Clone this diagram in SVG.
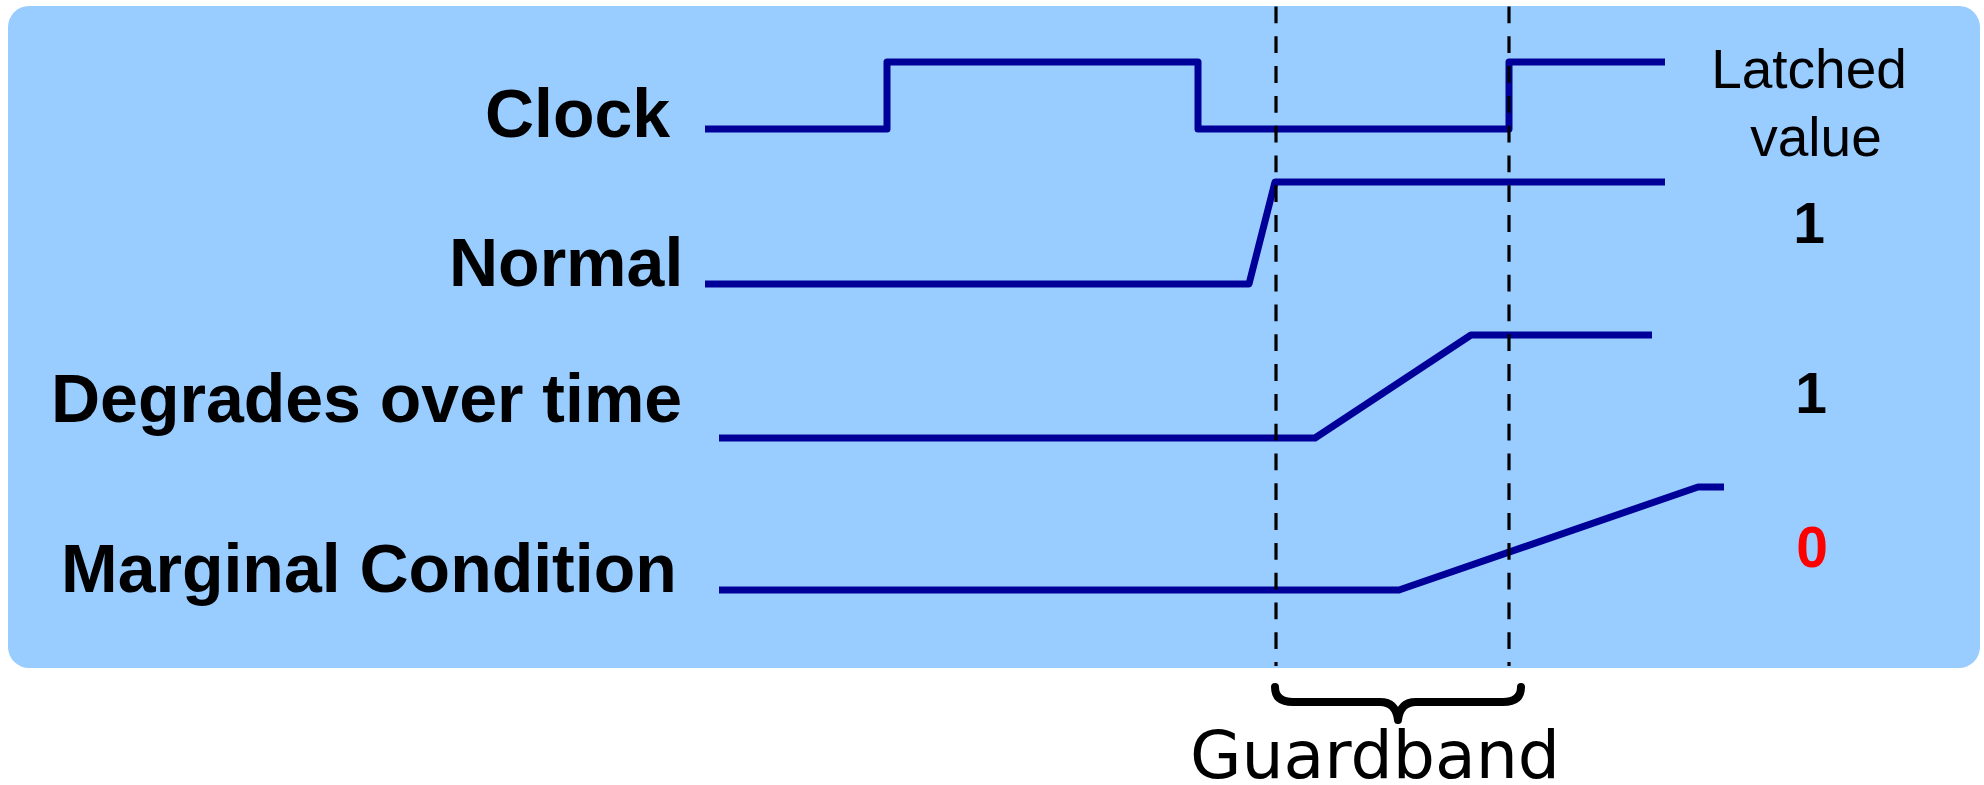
<svg xmlns="http://www.w3.org/2000/svg" width="1984" height="785" viewBox="0 0 1984 785">
  <style>
    .panel { fill: #99CCFF; }
    .wave { fill: none; stroke: #000099; stroke-width: 7; stroke-linejoin: round; stroke-linecap: butt; }
    .guide { fill: none; stroke: #000000; stroke-width: 3.2; stroke-dasharray: 16.8 13; }
    .brace { fill: none; stroke: #000000; stroke-width: 8; stroke-linecap: round; stroke-linejoin: round; }
    .sig { font-family: "Liberation Sans", Arial, sans-serif; font-weight: bold; font-size: 68px; fill: #000000; }
    .head { font-family: "Liberation Sans", Arial, sans-serif; font-size: 55px; fill: #000000; text-anchor: middle; }
    .val { font-family: "Liberation Sans", Arial, sans-serif; font-weight: bold; font-size: 57px; text-anchor: middle; }
    .band { font-family: "DejaVu Sans", Verdana, sans-serif; font-size: 66.5px; fill: #000000; text-anchor: middle; }
  </style>

  <!-- background panel -->
  <rect class="panel" x="8" y="6" width="1972" height="662" rx="21" ry="21"/>

  <!-- signal names -->
  <g id="label-clock"><text class="sig" x="485" y="137">Clock</text></g>
  <g id="label-normal"><text class="sig" x="449" y="286">Normal</text></g>
  <g id="label-degrades"><text class="sig" x="51" y="422">Degrades over time</text></g>
  <g id="label-marginal"><text class="sig" x="61" y="592">Marginal Condition</text></g>

  <!-- waveforms -->
  <g id="wave-clock"><path class="wave" d="M705,129 H887 V62 H1198 V129 H1509 V62 H1665"/></g>
  <g id="wave-normal"><path class="wave" d="M705,284 H1249 L1275,182 H1665"/></g>
  <g id="wave-degrades"><path class="wave" d="M719,438 H1315 L1471,335 H1652"/></g>
  <g id="wave-marginal"><path class="wave" d="M719,590 H1399 L1698,487 H1724"/></g>

  <!-- guardband window markers -->
  <g id="connectors">
    <line class="guide" x1="1276" y1="6.5" x2="1276" y2="666"/>
    <line class="guide" x1="1509" y1="6.5" x2="1509" y2="666"/>
  </g>

  <!-- latched value column -->
  <g id="latched-header">
    <text class="head" x="1809" y="88">Latched</text>
    <text class="head" x="1816" y="156">value</text>
  </g>
  <g id="value-normal"><text class="val" x="1809" y="243" fill="#000000">1</text></g>
  <g id="value-degrades"><text class="val" x="1811" y="413" fill="#000000">1</text></g>
  <g id="value-marginal"><text class="val" x="1812" y="567" fill="#FF0000">0</text></g>

  <!-- guardband brace -->
  <g id="guardband">
    <path class="brace" d="M1275,687 Q1275,702 1293,702 L1380,702 Q1396,702 1398,720 Q1400,702 1416,702 L1503,702 Q1521,702 1521,687"/>
    <text class="band" x="1375" y="778">Guardband</text>
  </g>
</svg>
